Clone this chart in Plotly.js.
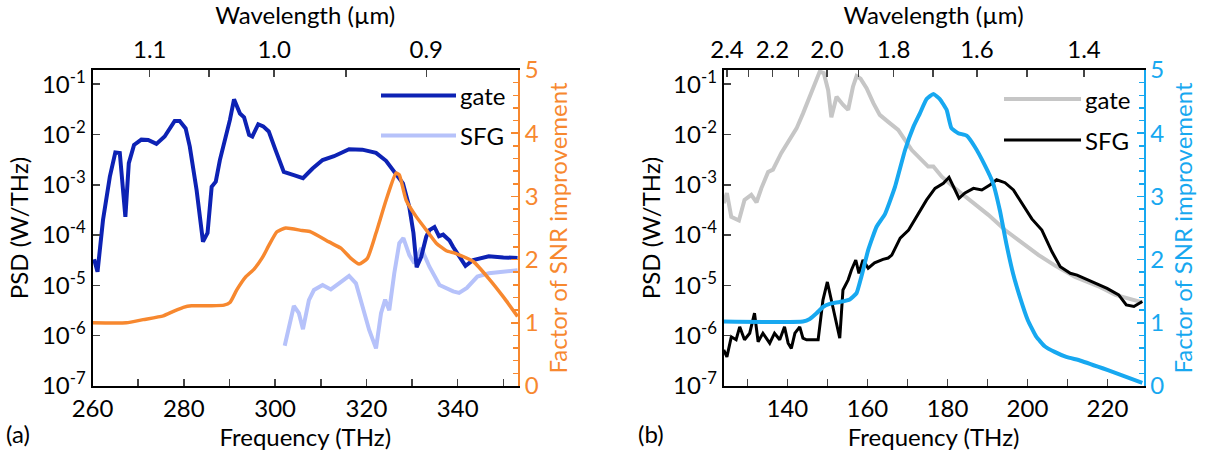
<!DOCTYPE html>
<html>
<head>
<meta charset="utf-8">
<script src="https://cdn.plot.ly/plotly-3.0.1.min.js"></script>
<style>
  html, body { margin: 0; padding: 0; background: #fff; }
  #chart { width: 1206px; height: 458px; }
</style>
</head>
<body>
<div id="chart"></div>
<script>
// ---------- panel (a): ~1 µm gate and SFG spectra ----------
const aGateFreq = [260.35, 261.1, 262.3, 263.8, 265.0, 265.98, 267.2, 267.95, 269.1, 270.7, 272.2, 274.0, 275.8, 278.0, 279.1, 280.4, 281.3, 282.8, 284.2, 285.2, 286.1, 287.0, 287.9, 289.0, 290.1, 291.0, 292.3, 293.2, 294.3, 295.0, 296.3, 297.4, 298.6, 300.1, 301.9, 304.1, 306.1, 308.2, 310.4, 312.9, 314.7, 316.2, 319.1, 322.1, 324.3, 326.1, 328.0, 329.4, 330.3, 331.0, 332.0, 333.1, 333.8, 334.9, 335.9, 336.8, 338.2, 339.0, 340.4, 341.7, 343.4, 346.8, 350.0, 353.1];
const aGatePSD = [3.3e-5, 1.86e-5, 2.0e-4, 1.45e-3, 4.4e-3, 4.3e-3, 2.3e-4, 2.7e-3, 6.2e-3, 7.9e-3, 7.8e-3, 6.5e-3, 9.1e-3, 1.86e-2, 1.86e-2, 1.32e-2, 5.8e-3, 7.9e-4, 7.4e-5, 1.1e-4, 9.1e-4, 1.15e-3, 3.1e-3, 7.2e-3, 1.95e-2, 5.0e-2, 2.6e-2, 2.2e-2, 9.8e-3, 9.1e-3, 1.6e-2, 1.45e-2, 1.15e-2, 4.9e-3, 1.8e-3, 1.55e-3, 1.35e-3, 2.1e-3, 3.1e-3, 3.7e-3, 4.3e-3, 5.1e-3, 5.0e-3, 4.3e-3, 3.0e-3, 1.8e-3, 1.07e-3, 3.6e-4, 1.1e-4, 2.3e-5, 3.7e-5, 9.3e-5, 1.26e-4, 1.45e-4, 9.5e-5, 1.02e-4, 7.8e-5, 5.8e-5, 3.7e-5, 2.45e-5, 3.2e-5, 3.8e-5, 3.6e-5, 3.5e-5];

const aSfgFreq = [302.1, 304.1, 305.2, 306.1, 307.4, 308.5, 310.4, 312.2, 314.0, 316.2, 317.7, 319.1, 320.6, 322.1, 323.2, 324.1, 325.0, 326.1, 327.2, 328.1, 329.4, 330.5, 332.0, 333.8, 336.0, 339.0, 340.3, 342.0, 344.3, 346.8, 350.0, 353.1];
const aSfgPSD = [6.3e-7, 3.9e-6, 2.8e-6, 1.35e-6, 5.1e-6, 8.1e-6, 1.02e-5, 8.3e-6, 1.1e-5, 1.55e-5, 1.1e-5, 3.8e-6, 1.3e-6, 5.6e-7, 2.8e-6, 5.2e-6, 3.2e-6, 1.74e-5, 6.9e-5, 8.7e-5, 4.0e-5, 2.75e-5, 5.5e-5, 2.35e-5, 1.02e-5, 7.6e-6, 7.1e-6, 8.9e-6, 1.5e-5, 1.74e-5, 1.9e-5, 2.0e-5];

const aSnrFreq = [260.0, 267.4, 271.1, 275.5, 277.7, 279.9, 281.7, 285.9, 288.8, 290.1, 291.6, 293.6, 295.4, 297.2, 298.6, 300.4, 302.3, 305.9, 307.8, 311.8, 314.4, 316.6, 318.4, 320.2, 322.1, 324.3, 326.5, 327.2, 328.7, 330.9, 333.1, 335.3, 337.5, 339.5, 343.4, 346.8, 350.2, 353.1];
const aSnrGain = [1.00, 1.00, 1.05, 1.11, 1.18, 1.245, 1.27, 1.27, 1.28, 1.32, 1.52, 1.73, 1.85, 2.03, 2.22, 2.44, 2.50, 2.46, 2.44, 2.28, 2.18, 2.02, 1.93, 2.02, 2.42, 2.94, 3.37, 3.34, 2.94, 2.68, 2.47, 2.26, 2.14, 2.10, 1.97, 1.70, 1.39, 1.10];

// ---------- panel (b): ~2 µm gate and SFG spectra ----------
const bGateFreq = [124.1, 124.9, 126.0, 127.9, 129.3, 131.0, 132.3, 133.5, 135.2, 136.4, 138.5, 140.6, 142.3, 143.9, 145.6, 147.3, 148.1, 149.1, 150.2, 151.0, 152.3, 153.9, 155.2, 156.4, 157.3, 158.3, 159.8, 161.5, 163.1, 165.2, 167.7, 171.1, 173.6, 175.2, 176.5, 178.6, 181.9, 186.1, 190.3, 194.4, 198.6, 202.8, 207.0, 211.9, 218.1, 222.0, 228.7];
const bGatePSD = [4.3e-4, 6.8e-4, 2.3e-4, 1.95e-4, 5.0e-4, 6.3e-4, 4.5e-4, 8.5e-4, 1.8e-3, 2.0e-3, 4.3e-3, 7.8e-3, 1.32e-2, 2.6e-2, 5.6e-2, 0.132, 0.178, 0.166, 7.6e-2, 2.2e-2, 5.6e-2, 3.9e-2, 3.1e-2, 8.9e-2, 0.145, 0.129, 8.3e-2, 4.2e-2, 2.45e-2, 1.78e-2, 1.23e-2, 4.9e-3, 3.1e-3, 2.3e-3, 2.3e-3, 1.45e-3, 8.5e-4, 4.6e-4, 2.5e-4, 1.26e-4, 6.9e-5, 4.0e-5, 2.45e-5, 1.48e-5, 9.3e-6, 6.5e-6, 4.6e-6];

const bSfgFreq = [124.1, 124.9, 126.0, 127.2, 128.1, 129.3, 130.6, 131.8, 132.7, 133.9, 135.6, 136.8, 138.1, 139.3, 140.2, 141.0, 141.9, 143.1, 143.9, 144.8, 147.7, 148.9, 150.0, 151.3, 153.1, 153.9, 155.2, 156.0, 157.1, 157.9, 158.9, 160.2, 161.8, 163.9, 165.2, 166.1, 168.2, 170.3, 172.7, 174.8, 176.9, 179.0, 180.4, 181.5, 182.9, 184.4, 186.5, 188.6, 190.7, 192.3, 194.4, 196.5, 198.6, 201.1, 203.6, 206.1, 208.2, 210.7, 212.4, 217.1, 219.9, 222.8, 224.7, 226.6, 228.7];
const bSfgPSD = [5.2e-7, 3.8e-7, 9.5e-7, 8.3e-7, 1.5e-6, 8.3e-7, 1.12e-6, 2.8e-6, 7.6e-7, 1.12e-6, 7.1e-7, 1.12e-6, 8.3e-7, 1.5e-6, 7.1e-7, 5.6e-7, 1.12e-6, 1.5e-6, 8.9e-7, 8.3e-7, 8.3e-7, 5.1e-6, 1.17e-5, 3.8e-6, 8.9e-7, 8.1e-6, 1.29e-5, 2.0e-5, 3.2e-5, 1.74e-5, 3.2e-5, 2.2e-5, 2.8e-5, 3.3e-5, 3.5e-5, 4.0e-5, 8.7e-5, 1.26e-4, 2.7e-4, 5.0e-4, 8.5e-4, 1.07e-3, 1.41e-3, 9.5e-4, 5.4e-4, 6.9e-4, 8.5e-4, 7.9e-4, 1.0e-3, 1.26e-3, 1.1e-3, 7.9e-4, 4.3e-4, 2.1e-4, 1.26e-4, 4.7e-5, 2.35e-5, 1.74e-5, 1.6e-5, 1.1e-5, 8.7e-6, 6.5e-6, 4.1e-6, 3.8e-6, 4.8e-6];

const bSnrFreq = [124.1, 143.9, 145.6, 147.3, 148.9, 150.6, 153.1, 155.6, 157.3, 158.5, 160.2, 162.3, 164.4, 166.9, 169.4, 171.5, 173.1, 174.8, 176.5, 178.1, 179.8, 181.0, 182.7, 184.8, 186.8, 189.3, 191.4, 193.1, 194.7, 196.4, 198.1, 200.1, 202.2, 204.3, 206.8, 209.7, 213.3, 220.1, 228.7];
const bSnrGain = [1.02, 1.02, 1.06, 1.15, 1.25, 1.30, 1.33, 1.37, 1.47, 1.73, 2.15, 2.52, 2.72, 3.15, 3.73, 4.10, 4.31, 4.54, 4.62, 4.54, 4.37, 4.08, 4.00, 3.96, 3.79, 3.50, 3.21, 2.78, 2.26, 1.78, 1.41, 1.04, 0.78, 0.63, 0.54, 0.46, 0.40, 0.25, 0.05];

// ---------- tick labels ----------
const psdTicks = [1e-7, 1e-6, 1e-5, 1e-4, 1e-3, 1e-2, 1e-1];
const psdTickText = ['10<sup>-7</sup>', '10<sup>-6</sup>', '10<sup>-5</sup>', '10<sup>-4</sup>', '10<sup>-3</sup>', '10<sup>-2</sup>', '10<sup>-1</sup>'];
const aWaveMajor = ['1.1', '1.0', '0.9'];
const aWaveMinor = [1.05, 0.95];
const bWaveMajor = ['2.4', '2.2', '2.0', '1.8', '1.6', '1.4'];
const bWaveMinor = [2.3, 2.1, 1.9, 1.7, 1.5];

const C_UM_THZ = 299.792458; // c in µm·THz
const toFreq = w => C_UM_THZ / w;

const COL = {
  aGate: '#0d22b4', aSfg: '#b6c2fa', aSnr: '#f7882f',
  bGate: '#c6c6c6', bSfg: '#000000', bSnr: '#17a8f0'
};

const FONT = 'Lato, "Open Sans", sans-serif';
const FS = 24;

// plot-area geometry (figure pixels)
const W = 1206, H = 458;
const yTop = 70, yBot = 386;
const aLeft = 92.5, aRight = 518;
const bLeft = 723.7, bRight = 1143.5;
const px = x => x / W;
const py = y => 1 - y / H;

const aRange = [260, 353.2];
const bRange = [124.1, 229.0];
const logRange = [-7, -0.718];

const traces = [
  {x: aSnrFreq, y: aSnrGain, xaxis: 'x', yaxis: 'y2', mode: 'lines',
   line: {color: COL.aSnr, width: 3.5, shape: 'spline', smoothing: 0.5}, showlegend: false},
  {x: aSfgFreq, y: aSfgPSD, xaxis: 'x', yaxis: 'y', mode: 'lines',
   line: {color: COL.aSfg, width: 4}, name: 'SFG', showlegend: false},
  {x: aGateFreq, y: aGatePSD, xaxis: 'x', yaxis: 'y', mode: 'lines',
   line: {color: COL.aGate, width: 4}, name: 'gate', showlegend: false},

  {x: bGateFreq, y: bGatePSD, xaxis: 'x2', yaxis: 'y3', mode: 'lines',
   line: {color: COL.bGate, width: 4}, name: 'gate', showlegend: false},
  {x: bSfgFreq, y: bSfgPSD, xaxis: 'x2', yaxis: 'y3', mode: 'lines',
   line: {color: COL.bSfg, width: 3}, name: 'SFG', showlegend: false},
  {x: bSnrFreq, y: bSnrGain, xaxis: 'x2', yaxis: 'y4', mode: 'lines',
   line: {color: COL.bSnr, width: 4, shape: 'spline', smoothing: 0.4}, showlegend: false}
];

const tickFont = {family: FONT, size: FS, color: '#000'};
const titleFont = {family: FONT, size: FS, color: '#000'};
const yDom = [py(yBot), py(yTop)];

function freqAxis(domain, range, dticks, minor0) {
  return {
    domain: domain, range: range, anchor: null,
    tickmode: 'array', tickvals: dticks, ticks: 'inside', ticklen: 7, tickwidth: 1.5,
    minor: {tickmode: 'linear', tick0: minor0, dtick: 20, ticks: 'inside', ticklen: 7, tickwidth: 1.5},
    showline: true, linewidth: 2, linecolor: '#000', showgrid: false, zeroline: false,
    tickfont: tickFont,
    title: {text: 'Frequency (THz)', font: titleFont, standoff: 4}
  };
}
function waveAxis(overlay, range, labels, minors) {
  return {
    overlaying: overlay, side: 'top', range: range, showgrid: false, zeroline: false,
    tickmode: 'array', tickvals: labels.map(l => toFreq(parseFloat(l))), ticktext: labels,
    ticks: 'inside', ticklen: 7, tickwidth: 1.5,
    minor: {tickmode: 'array', tickvals: minors.map(toFreq), ticks: 'inside', ticklen: 7, tickwidth: 1.5},
    showline: true, linewidth: 2, linecolor: '#000',
    tickfont: tickFont,
    title: {text: 'Wavelength (µm)', font: titleFont, standoff: 6}
  };
}
function psdAxis(anchor) {
  return {
    domain: yDom, anchor: anchor, type: 'log', range: logRange,
    tickmode: 'array', tickvals: psdTicks, ticktext: psdTickText,
    ticks: 'inside', ticklen: 7, tickwidth: 1.5,
    showline: true, linewidth: 2, linecolor: '#000', showgrid: false, zeroline: false,
    tickfont: tickFont,
    title: {text: 'PSD (W/THz)', font: titleFont, standoff: 6}
  };
}
function snrAxis(overlay, anchor, color) {
  return {
    overlaying: overlay, anchor: anchor, side: 'right', range: [0, 5],
    tickmode: 'linear', tick0: 0, dtick: 1, ticks: 'inside', ticklen: 7, tickwidth: 1.5, tickcolor: color,
    minor: {tickmode: 'linear', tick0: 0, dtick: 0.2, ticks: 'inside', ticklen: 5, tickwidth: 1.5, tickcolor: color},
    showline: true, linewidth: 2, linecolor: color, showgrid: false, zeroline: false,
    tickfont: {family: FONT, size: FS, color: color},
    title: {text: 'Factor of SNR improvement', font: {family: FONT, size: FS, color: color}, standoff: 12}
  };
}

const xa = freqAxis([px(aLeft), px(aRight)], aRange, [260, 280, 300, 320, 340], 270);
xa.anchor = 'y';
const xb = freqAxis([px(bLeft), px(bRight)], bRange, [140, 160, 180, 200, 220], 130);
xb.anchor = 'y3';

const xaTop = waveAxis('x', aRange, aWaveMajor, aWaveMinor); xaTop.anchor = 'y';
const xbTop = waveAxis('x2', bRange, bWaveMajor, bWaveMinor); xbTop.anchor = 'y3';

// legend rows drawn as short line samples with text labels
const legendRows = [
  {x0: 381, x1: 456, y: 95.5, color: COL.aGate, w: 4, text: 'gate'},
  {x0: 381, x1: 456, y: 135.5, color: COL.aSfg, w: 4, text: 'SFG'},
  {x0: 1004, x1: 1081, y: 99, color: COL.bGate, w: 4, text: 'gate'},
  {x0: 1004, x1: 1081, y: 140, color: COL.bSfg, w: 3, text: 'SFG'}
];
const shapes = legendRows.map(r => ({
  type: 'line', xref: 'paper', yref: 'paper', x0: px(r.x0), x1: px(r.x1), y0: py(r.y), y1: py(r.y),
  line: {color: r.color, width: r.w}
}));
const annotations = legendRows.map(r => ({
  xref: 'paper', yref: 'paper', x: px(r.x1 + 2), y: py(r.y), xanchor: 'left', yanchor: 'middle',
  text: r.text, showarrow: false, font: {family: FONT, size: FS, color: '#000'}
})).concat([
  {xref: 'paper', yref: 'paper', x: px(4), y: py(433), xanchor: 'left', yanchor: 'middle',
   text: '(a)', showarrow: false, font: {family: FONT, size: FS, color: '#000'}},
  {xref: 'paper', yref: 'paper', x: px(636), y: py(433), xanchor: 'left', yanchor: 'middle',
   text: '(b)', showarrow: false, font: {family: FONT, size: FS, color: '#000'}}
]);

const layout = {
  width: W, height: H,
  margin: {l: 0, r: 0, t: 0, b: 0},
  paper_bgcolor: '#fff', plot_bgcolor: 'rgba(0,0,0,0)',
  showlegend: false,
  font: {family: FONT, size: FS, color: '#000'},
  xaxis: xa, xaxis2: xb, xaxis3: xaTop, xaxis4: xbTop,
  yaxis: psdAxis('x'),
  yaxis2: snrAxis('y', 'x', COL.aSnr),
  yaxis3: psdAxis('x2'),
  yaxis4: snrAxis('y3', 'x2', COL.bSnr),
  shapes: shapes,
  annotations: annotations
};

// secondary x axes share the PSD axes' plot area
const topTraces = [
  {x: [aRange[0]], y: [1e-3], xaxis: 'x3', yaxis: 'y', mode: 'markers', marker: {opacity: 0}, hoverinfo: 'skip', showlegend: false},
  {x: [bRange[0]], y: [1e-3], xaxis: 'x4', yaxis: 'y3', mode: 'markers', marker: {opacity: 0}, hoverinfo: 'skip', showlegend: false}
];

Plotly.newPlot('chart', topTraces.concat(traces), layout, {staticPlot: true, displayModeBar: false});
</script>
</body>
</html>
